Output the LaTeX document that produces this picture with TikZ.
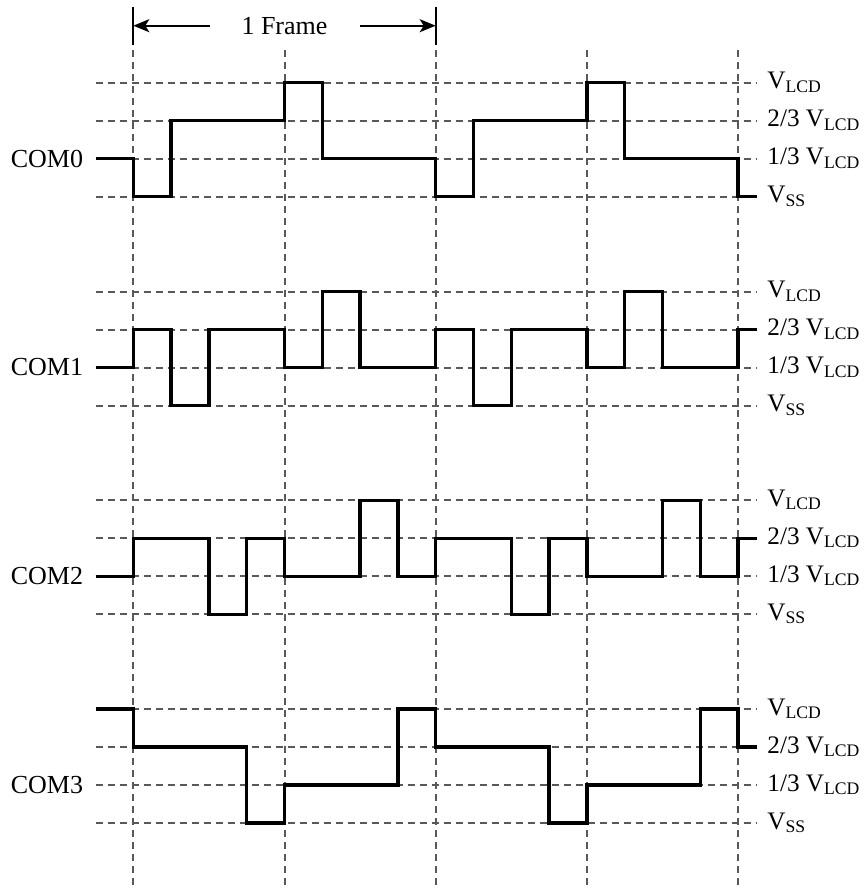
\documentclass[tikz,border=0pt]{standalone}
\usepackage{fontspec}
\setmainfont{Liberation Serif}
\usetikzlibrary{arrows.meta}
\tikzset{
  grid/.style={draw=black!65, line width=1pt, dash pattern=on 3.6pt off 2.4pt},
  wave/.style={draw=black, line width=1.75pt, line join=miter},
  lbl/.style={font=\fontsize{13}{15}\selectfont, inner sep=0pt},
  rlbl/.style={font=\fontsize{12.6}{15}\selectfont, inner sep=0pt, anchor=base west, xshift=5pt, yshift=-3pt},
  marker/.style={draw=black, line width=1.1pt},
  farrow/.style={draw=black, line width=1.1pt, -{Stealth[length=8pt,width=6.5pt,inset=2pt]}}
}
\begin{document}
\begin{tikzpicture}[x=0.5pt, y=-0.5pt]
\useasboundingbox (0,0) rectangle (865,890);
% frame marker
\coordinate (mA1) at (133.3,7);  \coordinate (mA2) at (133.3,45);
\coordinate (mB1) at (435.7,7);  \coordinate (mB2) at (435.7,45);
\draw[marker] (mA1) -- (mA2);
\draw[marker] (mB1) -- (mB2);
\node[lbl] (frame) at (284.5,25.7) {1 Frame};
\coordinate (aL) at (210,25.7);
\coordinate (aR) at (360,25.7);
\coordinate (aLt) at (133.3,25.7);
\coordinate (aRt) at (435.7,25.7);
\draw[farrow] (aL) -- (aLt);
\draw[farrow] (aR) -- (aRt);
% vertical dashed lines
\foreach \i in {0,4,8,12,16}{
  \coordinate (vt\i) at ({133.3+37.8*\i},50);
  \coordinate (vb\i) at ({133.3+37.8*\i},890);
  \draw[grid] (vt\i) -- (vb\i);
}
% groups
\foreach \g/\name in {0/COM0,1/COM1,2/COM2,3/COM3}{
  \begin{scope}[shift={(133.3,{196.7+208.8*\g})}, x=18.9pt, y=19pt]
    \foreach \l in {0,1,2,3}{
      \coordinate (hl\g\l) at (-1,\l);
      \coordinate (hr\g\l) at (16.5,\l);
      \draw[grid] (hl\g\l) -- (hr\g\l);
    }
    \node[lbl, anchor=east, xshift=-6pt] (com\g) at (hl\g1) {\name};
    \node[rlbl] (vlcd\g) at (hr\g3) {V\textsubscript{LCD}};
    \node[rlbl] (vtwo\g) at (hr\g2) {2/3 V\textsubscript{LCD}};
    \node[rlbl] (vone\g) at (hr\g1) {1/3 V\textsubscript{LCD}};
    \node[rlbl] (vss\g) at (hr\g0) {V\textsubscript{SS}};
  \end{scope}
}
\begin{scope}[shift={(133.3,196.7)}, x=18.9pt, y=19pt]
  \draw[wave] (-1,1)--(0,1)--(0,0)--(1,0)--(1,2)--(4,2)--(4,3)--(5,3)--(5,1)--(8,1)--(8,0)--(9,0)--(9,2)--(12,2)--(12,3)--(13,3)--(13,1)--(16,1)--(16,0)--(16.5,0);
\end{scope}
\begin{scope}[shift={(133.3,405.5)}, x=18.9pt, y=19pt]
  \draw[wave] (-1,1)--(0,1)--(0,2)--(1,2)--(1,0)--(2,0)--(2,2)--(4,2)--(4,1)--(5,1)--(5,3)--(6,3)--(6,1)--(8,1)--(8,2)--(9,2)--(9,0)--(10,0)--(10,2)--(12,2)--(12,1)--(13,1)--(13,3)--(14,3)--(14,1)--(16,1)--(16,2)--(16.5,2);
\end{scope}
\begin{scope}[shift={(133.3,614.3)}, x=18.9pt, y=19pt]
  \draw[wave] (-1,1)--(0,1)--(0,2)--(2,2)--(2,0)--(3,0)--(3,2)--(4,2)--(4,1)--(6,1)--(6,3)--(7,3)--(7,1)--(8,1)--(8,2)--(10,2)--(10,0)--(11,0)--(11,2)--(12,2)--(12,1)--(14,1)--(14,3)--(15,3)--(15,1)--(16,1)--(16,2)--(16.5,2);
\end{scope}
\begin{scope}[shift={(133.3,823.1)}, x=18.9pt, y=19pt]
  \draw[wave] (-1,3)--(0,3)--(0,2)--(3,2)--(3,0)--(4,0)--(4,1)--(7,1)--(7,3)--(8,3)--(8,2)--(11,2)--(11,0)--(12,0)--(12,1)--(15,1)--(15,3)--(16,3)--(16,2)--(16.5,2);
\end{scope}
\end{tikzpicture}
\end{document}
